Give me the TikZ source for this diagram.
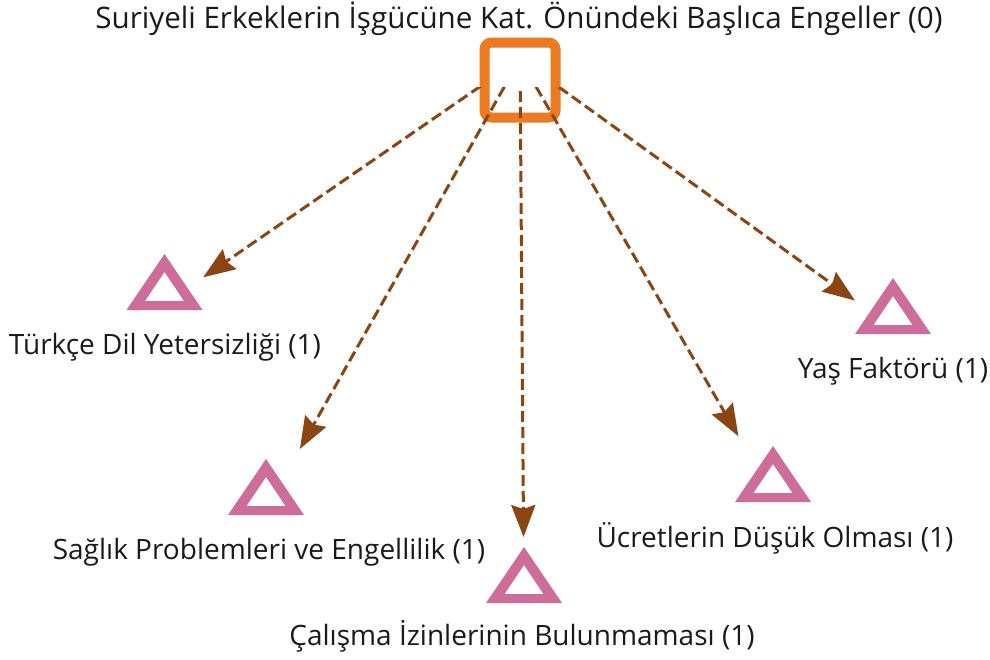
\documentclass[tikz,border=0pt]{standalone}
\usepackage{fontspec}
\setmainfont{Open Sans}
\usetikzlibrary{calc,arrows.meta}
\definecolor{hubOrange}{RGB}{235,122,32}
\definecolor{edgeBrown}{RGB}{139,69,19}
\definecolor{codePink}{RGB}{204,110,153}
\definecolor{labelInk}{RGB}{26,26,26}
\tikzset{
	hub/.style={draw=hubOrange, line width=5pt, rounded corners=3.5pt, fill=white, minimum width=35.5pt, minimum height=37.5pt, inner sep=0pt},
	edge/.style={draw=edgeBrown, line width=1.5pt, dash pattern=on 5.5pt off 2.5pt, -{Stealth[length=16pt,width=12pt,inset=2pt]}},
	codetri/.style={fill=codePink, even odd rule},
	lbl/.style={text=labelInk, inner sep=0pt, anchor=base, font=\fontsize{14}{16}\selectfont}
}
\def\codetri(#1){\fill[codetri] ($(#1)+(0,-50)$) -- ($(#1)+(38,6)$) -- ($(#1)+(-38,6)$) -- cycle ($(#1)+(0,-32)$) -- ($(#1)+(19.5,-3)$) -- ($(#1)+(-19.5,-3)$) -- cycle;}

\begin{document}
\begin{tikzpicture}[x=0.5pt,y=-0.5pt]
			%%%%% START %%%%%
			\useasboundingbox (0,0) rectangle (990,659);
			
			\node[lbl, font=\fontsize{14.8}{17}\selectfont] (title) at (519,28) {Suriyeli Erkeklerin İşgücüne Kat. Önündeki Başlıca Engeller (0)};
			\node[hub] (hub) at (520,80) {};
			\coordinate (src) at (520,59);
			
			\coordinate (dil) at (164.5,304);
			\coordinate (saglik) at (266,509);
			\coordinate (izin) at (524,597);
			\coordinate (ucret) at (773,496);
			\coordinate (yas) at (893,328);
			
			\codetri(dil);
			\codetri(saglik);
			\codetri(izin);
			\codetri(ucret);
			\codetri(yas);
			
			\node[lbl] (dilL) at (165,354) {Türkçe Dil Yetersizliği (1)};
			\node[lbl] (saglikL) at (269,559) {Sağlık Problemleri ve Engellilik (1)};
			\node[lbl] (izinL) at (522,645) {Çalışma İzinlerinin Bulunmaması (1)};
			\node[lbl] (ucretL) at (775,547) {Ücretlerin Düşük Olması (1)};
			\node[lbl] (yasL) at (893,378) {Yaş Faktörü (1)};
			
			\begin{scope}
				\clip (0,87) rectangle (990,659);
				\draw[edge, shorten >=23.5pt] (src) -- (dil);
				\draw[edge, shorten >=34.5pt] (src) -- (saglik);
				\draw[edge, shorten >=30pt] (src) -- (izin);
				\draw[edge, shorten >=34.5pt] (src) -- (ucret);
				\draw[edge, shorten >=23.5pt] (src) -- (yas);
			\end{scope}
			
			%%%%% END %%%%%
\end{tikzpicture}
\end{document}
